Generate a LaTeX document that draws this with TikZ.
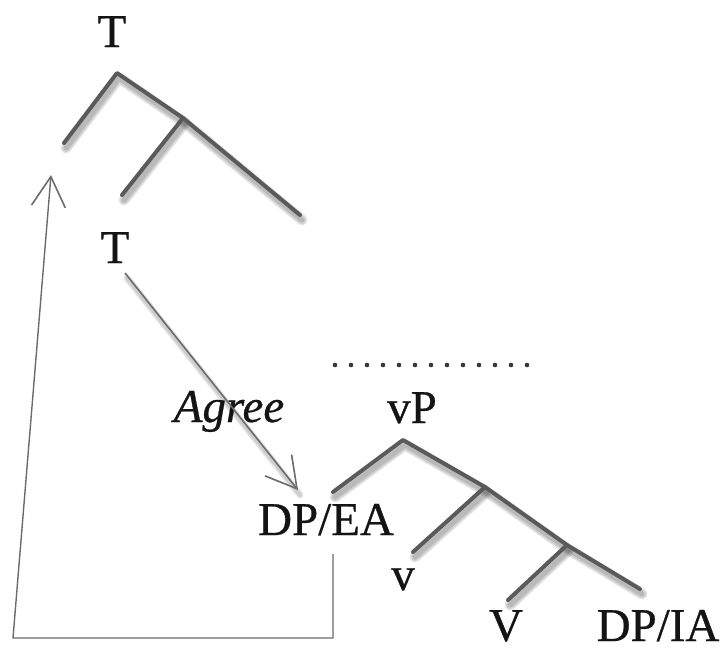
\documentclass[tikz,border=0pt]{standalone}
\usepackage{fontspec}
\setmainfont{Liberation Serif}[FakeBold=0.6]
\usetikzlibrary{arrows.meta}
\definecolor{branch}{HTML}{5A5A5A}
\definecolor{ink}{HTML}{141414}
\tikzset{
  lbl/.style={anchor=base, inner sep=0pt, text=ink, font=\fontsize{47}{56}\selectfont},
  softshadow/.style={draw=black, draw opacity=0.1, line cap=round, line join=round},
  branchline/.style={draw=branch, line width=4pt, line cap=round, line join=round},
  pointer/.style={draw=branch!90, line width=1.6pt,
      -{Straight Barb[length=30pt,width=34pt,line width=1.6pt]}},
  dotrow/.style={draw=ink!85, line width=4.6pt, line cap=round, dash pattern=on 0pt off 16pt}
}
\begin{document}
\begin{tikzpicture}[x=1pt,y=-1pt]
\useasboundingbox (0,0) rectangle (725,651);

% labels
\node[lbl] (Ttop) at (112,47) {T};
\node[lbl] (Tlow) at (115,263) {T};
\node[lbl, font=\fontsize{47}{56}\selectfont\itshape] (agree) at (229,422) {Agree};
\node[lbl] (vP) at (412,423) {vP};
\node[lbl] (dpea) at (326,535) {DP/EA};
\node[lbl] (v) at (403,590) {v};
\node[lbl] (V) at (506,641) {V};
\node[lbl] (dpia) at (658,641) {DP/IA};

% branch points
\coordinate (tA) at (117,73);
\coordinate (tL) at (64,143);
\coordinate (tM) at (183,118);
\coordinate (tR) at (300,215);
\coordinate (tML) at (122,195);
\coordinate (vA) at (403,440);
\coordinate (vL) at (333,492);
\coordinate (vM1) at (485,487);
\coordinate (vM2) at (567,545);
\coordinate (vR) at (640,589);
\coordinate (vM1L) at (413,552);
\coordinate (vM2L) at (508,600);
\coordinate (agS) at (125,273);
\coordinate (agE) at (298,490);

% soft drop shadow under the branches, offset down and right
\begin{scope}[transform canvas={shift={(2pt,-5pt)}}]
  \foreach \w in {11,8,5} {
    \draw[softshadow, line width=\w pt] (tL) -- (tA) -- (tM) -- (tR);
    \draw[softshadow, line width=\w pt] (tM) -- (tML);
    \draw[softshadow, line width=\w pt] (vL) -- (vA) -- (vM1) -- (vM2) -- (vR);
    \draw[softshadow, line width=\w pt] (vM1) -- (vM1L);
    \draw[softshadow, line width=\w pt] (vM2) -- (vM2L);
  }
  \foreach \w in {7,4} {
    \draw[softshadow, line width=\w pt] (agS) -- (agE);
  }
\end{scope}

% upper T tree
\draw[branchline] (tL) -- (tA) -- (tM) -- (tR);
\draw[branchline] (tM) -- (tML);

% vP tree
\draw[branchline] (vL) -- (vA) -- (vM1) -- (vM2) -- (vR);
\draw[branchline] (vM1) -- (vM1L);
\draw[branchline] (vM2) -- (vM2L);

% dotted separator
\coordinate (dotS) at (335,365);
\coordinate (dotE) at (543,365);
\draw[dotrow] (dotS) -- (dotE);

% Agree relation
\draw[pointer] (agS) -- (agE);

% movement of the external argument
\coordinate (mvS) at (333,554);
\coordinate (mvC1) at (333,638);
\coordinate (mvC2) at (13,638);
\coordinate (mvE) at (51,175);
\draw[pointer, line width=1.4pt, line join=miter] (mvS) -- (mvC1) -- (mvC2) -- (mvE);
\end{tikzpicture}
\end{document}
